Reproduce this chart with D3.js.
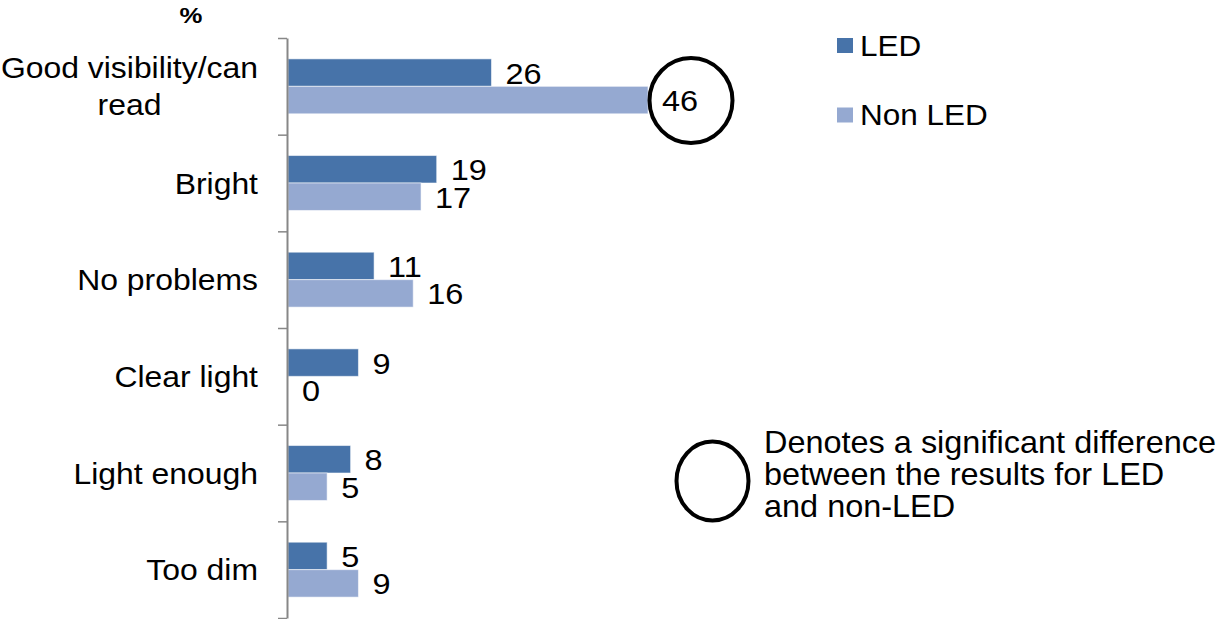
<!DOCTYPE html>
<html>
<head>
<meta charset="utf-8">
<script src="https://cdn.jsdelivr.net/npm/d3@7"></script>
<style>
  html, body { margin: 0; padding: 0; background: #fff; }
  svg { display: block; }
  text { font-family: "Liberation Sans", Arial, sans-serif; fill: #000; }
</style>
</head>
<body>
<svg id="chart" width="1222" height="619"></svg>
<script>
// Survey answers about the light, by lamp type (%)
const categories = [
  ["Good visibility/can", "read"],
  ["Bright"],
  ["No problems"],
  ["Clear light"],
  ["Light enough"],
  ["Too dim"]
];
const seriesNames = ["LED", "Non LED"];
const ledValues = [26, 19, 11, 9, 8, 5];
const nonLedValues = [46, 17, 16, 0, 5, 9];
// [category index, series index] of results flagged as significantly different
const significant = [[0, 1]];
const unitLabel = "%";
const noteLines = ["Denotes a significant difference", "between the results for LED", "and non-LED"];

const colors = { "LED": "#4773a9", "Non LED": "#95a9d1" };

const svg = d3.select("#chart");

const x = d3.scaleLinear().domain([0, 46]).range([288, 648]);
const catKeys = categories.map(c => c.join(" "));
const y0 = d3.scaleBand().domain(catKeys).range([38, 618]).padding(0);
const y1 = d3.scaleBand().domain(seriesNames).range([0, y0.bandwidth()])
  .paddingInner(0).paddingOuter(0.76);

// place a text element with a slight horizontal widening
function place(sel, px, py, sx) {
  sel.attr("transform", `translate(${px},${py}) scale(${sx},1)`);
  return sel;
}

// Bars
const rows = catKeys.map((k, i) => ({ key: k, i, vals: [ledValues[i], nonLedValues[i]] }));
const groups = svg.append("g").selectAll("g").data(rows).join("g")
  .attr("transform", d => `translate(0,${y0(d.key)})`);

groups.selectAll("rect").data(d => d.vals.map((v, s) => ({ v, s: seriesNames[s] })))
  .join("rect")
  .attr("x", x(0))
  .attr("y", d => y1(d.s))
  .attr("width", d => x(d.v) - x(0))
  .attr("height", y1.bandwidth())
  .attr("fill", d => colors[d.s])
  .attr("stroke", "rgba(255,255,255,0.55)")
  .attr("stroke-width", 1);

// Value labels
groups.each(function (d) {
  const g = d3.select(this);
  d.vals.forEach((v, s) => {
    const t = g.append("text")
      .attr("font-size", 29)
      .text(v);
    place(t, x(v) + 14, y1(seriesNames[s]) + y1.bandwidth() / 2 + 11, 1.12);
  });
});

// Significance rings around flagged labels
significant.forEach(([ci, si]) => {
  const v = [ledValues, nonLedValues][si][ci];
  svg.append("ellipse")
    .attr("cx", x(v) + 43)
    .attr("cy", y0(catKeys[ci]) + y1(seriesNames[si]) + y1.bandwidth() / 2 + 0.5)
    .attr("rx", 41.5)
    .attr("ry", 42.5)
    .attr("fill", "none")
    .attr("stroke", "#000")
    .attr("stroke-width", 4);
});

// Category axis
const tickPos = d3.scaleLinear().domain([0, categories.length]).range([38, 618]);
const axis = svg.append("g")
  .attr("transform", `translate(${x(0) - 1},0)`)
  .call(d3.axisLeft(tickPos).tickValues(d3.range(categories.length + 1))
    .tickSize(9).tickSizeOuter(0).tickFormat(""));
axis.select(".domain").attr("stroke", "#878787").attr("stroke-width", 2);
axis.selectAll(".tick line").attr("stroke", "#878787").attr("stroke-width", 1.5);

// Category labels: right-aligned block, lines centred within it
const labelRight = 258;
categories.forEach((lines, i) => {
  const cy = y0(catKeys[i]) + y0.bandwidth() / 2;
  const lh = 37;
  const g = svg.append("g");
  const texts = lines.map((ln, j) => {
    const t = g.append("text").attr("font-size", 29).attr("text-anchor", "middle").text(ln);
    return t;
  });
  const widths = texts.map(t => t.node().getComputedTextLength() * 1.1);
  const maxW = d3.max(widths);
  texts.forEach((t, j) => {
    const by = cy + (j - (lines.length - 1) / 2) * lh + 10.5;
    place(t, labelRight - maxW / 2, by, 1.1);
  });
});

// Unit label
place(svg.append("text").attr("font-size", 23).attr("font-weight", "bold")
  .attr("text-anchor", "middle").text(unitLabel), 191, 23, 1.12);

// Legend
const legend = svg.append("g");
seriesNames.forEach((name, i) => {
  const ly = 38 + i * 69.5;
  legend.append("rect")
    .attr("x", 837).attr("y", ly).attr("width", 16).attr("height", 15)
    .attr("fill", colors[name]);
  place(legend.append("text").attr("font-size", 30).text(name), 860, ly + 17.5, 1.05);
});

// Note explaining the rings
svg.append("ellipse")
  .attr("cx", 712.5).attr("cy", 481).attr("rx", 36).attr("ry", 39.5)
  .attr("fill", "none").attr("stroke", "#000").attr("stroke-width", 4);
noteLines.forEach((ln, j) => {
  place(svg.append("text").attr("font-size", 31.5).text(ln), 764, 453 + j * 32, 1.03);
});
</script>
</body>
</html>
